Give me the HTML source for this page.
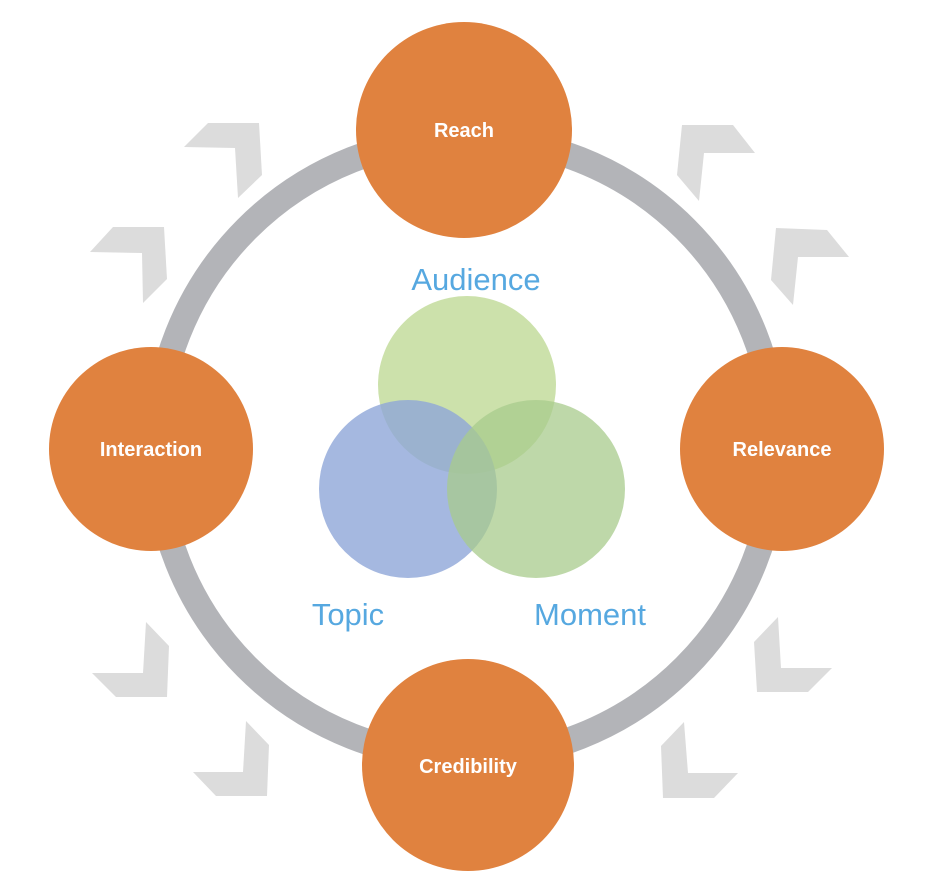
<!DOCTYPE html>
<html><head><meta charset="utf-8"><style>html,body{margin:0;padding:0;background:#fff}svg{display:block}</style></head>
<body>
<svg width="940" height="884" viewBox="0 0 940 884" xmlns="http://www.w3.org/2000/svg">
<g fill="#dcdcdc">
<polygon points="184,147 208,123 259,123 262,175 238,198 235,148"/>
<polygon points="90,252 113,227 164,227 167,279 143,303 142,253"/>
<polygon points="682,125 733,125 755,153 704,153 699,201 677,175"/>
<polygon points="776,228 827,230 849,257 798,257 793,305 771,280"/>
<polygon points="778,617 754,642 757,692 808,692 832,668 781,668"/>
<polygon points="684,722 661,746 663,798 714,798 738,773 688,773"/>
<polygon points="146,622 169,646 167,697 116,697 92,673 143,673"/>
<polygon points="246,721 269,745 267,796 216,796 193,772 243,772"/>
</g>
<circle cx="466" cy="448" r="310" fill="none" stroke="#b3b4b8" stroke-width="26"/>
<g fill="#e0823f">
<circle cx="464" cy="130" r="108"/>
<circle cx="151" cy="449" r="102"/>
<circle cx="782" cy="449" r="102"/>
<circle cx="468" cy="765" r="106"/>
</g>
<g font-family="Liberation Sans, sans-serif" font-weight="bold" font-size="20" fill="#fff" text-anchor="middle">
<text x="464" y="137">Reach</text>
<text x="151" y="456">Interaction</text>
<text x="782" y="456">Relevance</text>
<text x="468" y="773">Credibility</text>
</g>
<circle cx="467" cy="385" r="89" fill="#c3dc9c" opacity="0.85"/>
<circle cx="408" cy="489" r="89" fill="#8ea6d8" opacity="0.8"/>
<circle cx="536" cy="489" r="89" fill="#a8cb8c" opacity="0.75"/>
<g font-family="Liberation Sans, sans-serif" font-size="31" fill="#56a8e0" text-anchor="middle">
<text x="476" y="290">Audience</text>
<text x="348" y="625">Topic</text>
<text x="590" y="625">Moment</text>
</g>
</svg>
</body></html>
